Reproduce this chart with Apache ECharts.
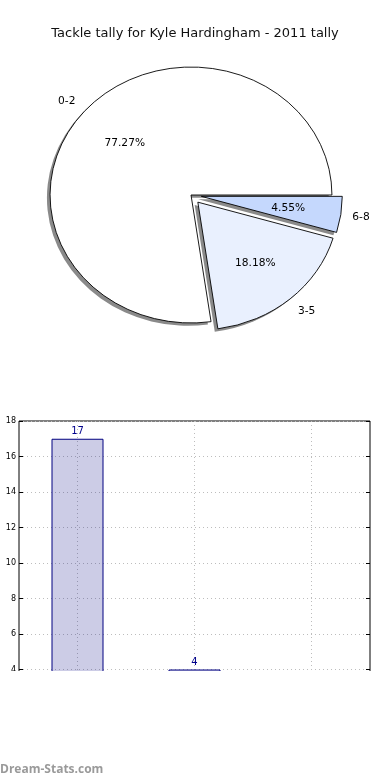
<!DOCTYPE html>
<html>
<head>
<meta charset="utf-8">
<script src="https://cdn.jsdelivr.net/npm/echarts@6/dist/echarts.min.js"></script>
<style>
html,body{margin:0;padding:0;background:#fff;}
#wrap{position:relative;width:390px;height:780px;overflow:hidden;}
#chart{position:absolute;left:0;top:0;width:390px;height:780px;}
#pie{position:absolute;left:0;top:0;width:390px;height:400px;z-index:2;
     transform-origin:191px 195px;transform:scale(1.044,0.948);}
</style>
</head>
<body>
<div id="wrap">
<div id="chart"></div>
<div id="pie"></div>
</div>
<script>
// ---- data ----
const titleText = 'Tackle tally for Kyle Hardingham - 2011 tally';
const categories = ['0-2', '3-5', '6-8'];
const tallies = [17, 4, 1];
const exploded = [false, true, true];
const sliceColors = ['#ffffff', '#e9f0fe', '#c5d8fd'];
const yAxisName = 'Tackle Tally';
const watermark = 'Dream-Stats.com';

// ---- layout constants ----
const R = 135;
const CENTER = [191, 195];
const FONT = 'DejaVu Sans';
const namePads = [[0, 9, 0, 0], [0, 0, 0, 10], [0, 0, 0, 6]];

function pieData(colorFn, labelFn) {
  return categories.map((c, i) => {
    const d = { name: c, value: tallies[i], selected: exploded[i], itemStyle: { color: colorFn(i) } };
    if (labelFn) d.label = labelFn(i);
    return d;
  });
}

const commonPie = {
  type: 'pie',
  center: CENTER,
  startAngle: 0,
  clockwise: false,
  selectedMode: 'multiple',
  selectedOffset: 10,
  avoidLabelOverlap: false,
  animation: false,
  emphasis: { disabled: true },
  labelLine: { show: false },
  label: { show: false }
};

const labelStyle = {
  show: true, position: 'inside', fontFamily: FONT, fontSize: 10.2, color: '#000',
  textBorderWidth: 0, textBorderColor: 'transparent', textShadowBlur: 0
};

const pieChart = echarts.init(document.getElementById('pie'), null, { renderer: 'svg' });
pieChart.setOption({
  animation: false,
  series: [
    Object.assign({}, commonPie, {
      name: 'shadow',
      center: [CENTER[0] - 3, CENTER[1] + 3],
      radius: [0, R],
      silent: true,
      itemStyle: { borderWidth: 0 },
      data: pieData(() => '#8a8a8a')
    }),
    Object.assign({}, commonPie, {
      name: 'slices',
      radius: [0, R],
      itemStyle: { borderColor: '#000', borderWidth: 0.9 },
      data: pieData(i => sliceColors[i])
    }),
    Object.assign({}, commonPie, {
      name: 'pct',
      radius: [0, R * 1.2],
      silent: true,
      itemStyle: { borderWidth: 0 },
      label: Object.assign({}, labelStyle, { formatter: '{d}%' }),
      data: pieData(() => 'transparent')
    }),
    Object.assign({}, commonPie, {
      name: 'names',
      radius: [0, R * 2.2],
      silent: true,
      itemStyle: { borderWidth: 0 },
      label: Object.assign({}, labelStyle, { formatter: '{b}' }),
      data: pieData(() => 'transparent', i => ({ padding: namePads[i] }))
    })
  ]
});

const chart = echarts.init(document.getElementById('chart'), null, { renderer: 'canvas' });
chart.setOption({
  animation: false,
  title: {
    text: titleText,
    left: 'center',
    top: 22,
    textStyle: { fontFamily: FONT, fontSize: 13, fontWeight: 'normal', color: '#111' }
  },
  grid: {
    left: 19, right: 20, top: 421, bottom: 39.5,
    outerBoundsMode: 'none',
    containLabel: false,
    show: true, borderColor: '#000', borderWidth: 1, backgroundColor: 'transparent'
  },
  xAxis: [{
    type: 'category',
    data: categories,
    boundaryGap: true,
    axisLine: { show: false },
    axisTick: { show: false },
    axisLabel: { fontFamily: FONT, fontSize: 8, color: '#000' },
    splitLine: { show: true, alignWithLabel: true, lineStyle: { color: '#bdbdbd', type: [1, 3], width: 1 } }
  }, {
    type: 'category',
    data: categories,
    position: 'top',
    boundaryGap: true,
    axisLine: { show: false },
    axisTick: { show: true, inside: true, length: 4, alignWithLabel: true, lineStyle: { color: '#000' } },
    axisLabel: { show: false },
    splitLine: { show: false }
  }],
  yAxis: [{
    type: 'value',
    min: 0, max: 18, interval: 2,
    name: yAxisName,
    nameLocation: 'middle',
    nameGap: 13,
    nameTextStyle: { fontFamily: FONT, fontSize: 10, color: '#000' },
    axisLine: { show: false },
    axisTick: { show: true, inside: true, length: 4, lineStyle: { color: '#000' } },
    axisLabel: { fontFamily: FONT, fontSize: 8, color: '#000', margin: 3 },
    splitLine: { show: true, lineStyle: { color: '#bdbdbd', type: [1, 3], width: 1 } }
  }, {
    type: 'value',
    min: 0, max: 18, interval: 2,
    position: 'right',
    axisLine: { show: false },
    axisTick: { show: true, inside: true, length: 4, lineStyle: { color: '#000' } },
    axisLabel: { show: false },
    splitLine: { show: false }
  }],
  graphic: [
    { type: 'rect', z: 100, shape: { x: 0, y: 671, width: 390, height: 91 }, style: { fill: '#fff' } },
    { type: 'text', z: 101, left: 0, top: 764,
      style: { text: watermark, fill: '#9a9a9a', fontFamily: 'Open Sans', fontWeight: 'bold', fontSize: 12 } }
  ],
  series: [
    {
      type: 'bar',
      xAxisIndex: 0,
      yAxisIndex: 0,
      data: tallies,
      barWidth: 52,
      itemStyle: { color: 'rgba(0,0,128,0.2)', borderColor: '#000080', borderWidth: 1 },
      label: { show: true, position: 'top', distance: 2, fontFamily: FONT, fontSize: 10, color: '#00008b' },
      emphasis: { disabled: true }
    }
  ]
});
</script>
</body>
</html>
